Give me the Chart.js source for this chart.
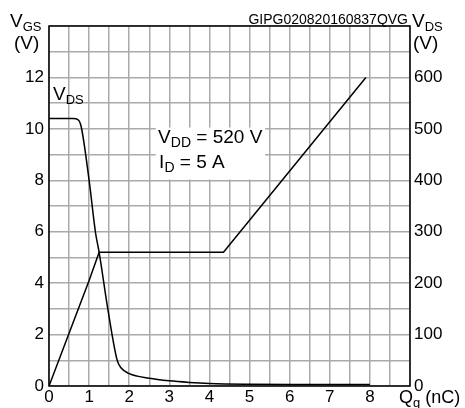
<!DOCTYPE html>
<html>
<head>
<meta charset="utf-8">
<script src="https://cdn.jsdelivr.net/npm/chart.js@4/dist/chart.umd.min.js"></script>
<style>
  html, body { margin: 0; padding: 0; background: #fff; }
  canvas { display: block; }
</style>
</head>
<body>
<canvas id="chart" width="465" height="408"></canvas>
<script>
// gate charge curve
const qVgs = [0, 0.5, 1.0, 1.25, 4.35, 7.9];        // nC
const vgs = [0, 2.05, 4.1, 5.2, 5.2, 12.0];         // V (left axis)

const qVds = [0, 0.6, 0.72, 0.8, 1.0, 1.16, 1.25, 1.47, 1.7, 1.8, 2.0, 2.5, 3.0, 3.5, 4.0, 5.0, 6.0, 8.0];
const vds = [520, 520, 518, 505, 400, 298, 260, 148, 50, 35, 24, 15, 10, 7, 5, 3.5, 3, 3]; // V (right axis)

const xTicks = [0, 1, 2, 3, 4, 5, 6, 7, 8];
const vgsTicks = [0, 2, 4, 6, 8, 10, 12];
const vdsTicks = [0, 100, 200, 300, 400, 500, 600];

const FONT = "'Liberation Sans', Arial, sans-serif";

function toPoints(xs, ys) {
  return xs.map((x, i) => ({ x: x, y: ys[i] }));
}

// text with a subscript, returns end x
function subText(ctx, x, y, main, sub, size, subSize) {
  ctx.font = size + "px " + FONT;
  ctx.fillText(main, x, y);
  let w = ctx.measureText(main).width;
  ctx.font = subSize + "px " + FONT;
  ctx.fillText(sub, x + w, y + size * 0.22);
  return x + w + ctx.measureText(sub).width;
}

const textPlugin = {
  id: "texts",
  beforeDatasetsDraw(chart) {
    const ctx = chart.ctx;
    const xs = chart.scales.x, ys = chart.scales.y;
    // white box for the test conditions
    const x0 = xs.getPixelForValue(2.66), x1 = xs.getPixelForValue(5.39);
    const y0 = ys.getPixelForValue(10.05), y1 = ys.getPixelForValue(8.03);
    ctx.save();
    ctx.fillStyle = "#fff";
    ctx.fillRect(x0, y0, x1 - x0, y1 - y0);
    ctx.restore();
  },
  afterDraw(chart) {
    const ctx = chart.ctx;
    const a = chart.chartArea;
    const xs = chart.scales.x, ys = chart.scales.y;
    ctx.save();
    // frame
    ctx.strokeStyle = "#000";
    ctx.lineWidth = 1.5;
    ctx.strokeRect(a.left, a.top, a.right - a.left, a.bottom - a.top);

    ctx.fillStyle = "#000";
    ctx.textBaseline = "alphabetic";
    ctx.textAlign = "left";

    // axis titles
    subText(ctx, 10, 27, "V", "GS", 19, 13);
    ctx.font = "19px " + FONT;
    ctx.fillText("(V)", 14, 49);
    subText(ctx, 412, 27, "V", "DS", 19, 13);
    ctx.font = "19px " + FONT;
    ctx.fillText("(V)", 413, 49);

    ctx.font = "14px " + FONT;
    ctx.textAlign = "right";
    ctx.fillText("GIPG020820160837QVG", 408, 24);
    ctx.textAlign = "left";

    // curve label
    subText(ctx, 53, 100, "V", "DS", 19, 13);

    // conditions
    const tx = xs.getPixelForValue(2.72);
    let e = subText(ctx, tx, ys.getPixelForValue(9.45), "V", "DD", 19, 14);
    ctx.font = "19px " + FONT;
    ctx.fillText(" = 520 V", e, ys.getPixelForValue(9.45));
    e = subText(ctx, tx + 1, ys.getPixelForValue(8.47), "I", "D", 19, 14);
    ctx.font = "19px " + FONT;
    ctx.fillText(" = 5 A", e, ys.getPixelForValue(8.47));

    // x axis title
    e = subText(ctx, 399, 403, "Q", "g", 18, 13);
    ctx.font = "18px " + FONT;
    ctx.fillText(" (nC)", e, 403);
    ctx.restore();
  }
};

new Chart(document.getElementById("chart"), {
  type: "scatter",
  data: {
    datasets: [
      {
        label: "VGS",
        data: toPoints(qVgs, vgs),
        showLine: true,
        borderColor: "#000",
        borderWidth: 1.5,
        pointRadius: 0,
        tension: 0,
        yAxisID: "y",
      },
      {
        label: "VDS",
        data: toPoints(qVds, vds),
        showLine: true,
        borderColor: "#000",
        borderWidth: 1.5,
        pointRadius: 0,
        cubicInterpolationMode: "monotone",
        yAxisID: "y2",
      },
    ],
  },
  options: {
    responsive: false,
    animation: false,
    devicePixelRatio: 1,
    layout: { padding: { top: 26, left: 0, right: 0, bottom: 0 } },
    plugins: { legend: { display: false }, tooltip: { enabled: false } },
    scales: {
      x: {
        type: "linear",
        min: 0,
        max: 9,
        afterFit: (s) => { s.height = 22; },
        ticks: {
          stepSize: 0.5,
          autoSkip: false,
          maxRotation: 0,
          padding: 1,
          color: "#000",
          font: { family: FONT, size: 17 },
          callback: (v) => (xTicks.includes(v) ? String(v) : ""),
        },
        grid: { color: "#aaaaaa", lineWidth: 1.5, drawTicks: false },
        border: { display: false },
      },
      y: {
        position: "left",
        min: 0,
        max: 14,
        afterFit: (s) => { s.width = 49; },
        ticks: {
          stepSize: 1,
          autoSkip: false,
          padding: 5,
          color: "#000",
          font: { family: FONT, size: 17 },
          callback: (v) => (vgsTicks.includes(v) ? String(v) : ""),
        },
        grid: { color: "#aaaaaa", lineWidth: 1.5, drawTicks: false },
        border: { display: false },
      },
      y2: {
        position: "right",
        min: 0,
        max: 700,
        afterFit: (s) => { s.width = 55; },
        ticks: {
          stepSize: 100,
          autoSkip: false,
          padding: 4,
          color: "#000",
          font: { family: FONT, size: 17 },
          callback: (v) => (vdsTicks.includes(v) ? String(v) : ""),
        },
        grid: { display: false, drawTicks: false },
        border: { display: false },
      },
    },
  },
  plugins: [textPlugin],
});
</script>
</body>
</html>
